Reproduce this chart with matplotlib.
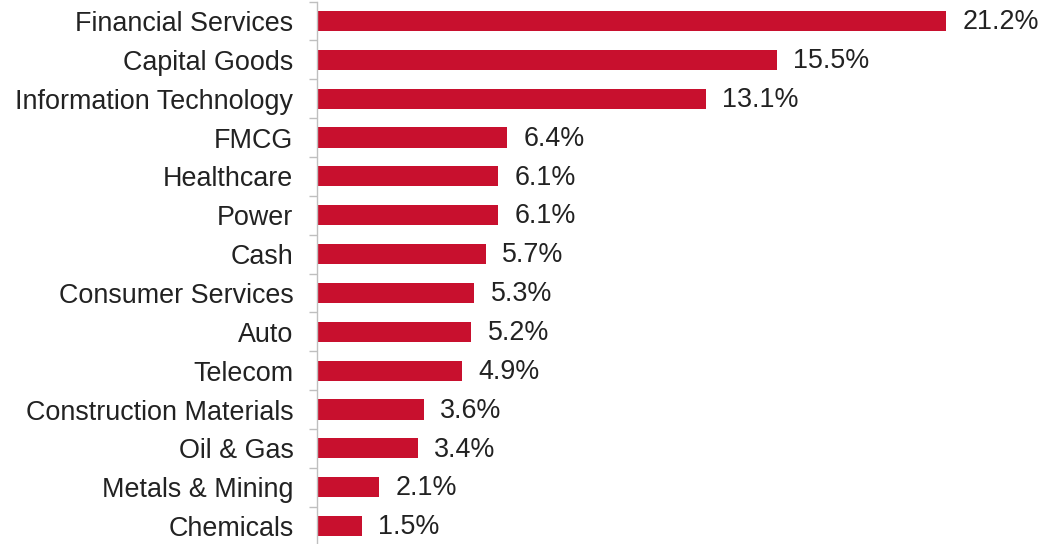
import numpy as np
import matplotlib.pyplot as plt

sectors = ["Financial Services", "Capital Goods", "Information Technology", "FMCG",
           "Healthcare", "Power", "Cash", "Consumer Services", "Auto", "Telecom",
           "Construction Materials", "Oil & Gas", "Metals & Mining", "Chemicals"]
weights = [21.2, 15.5, 13.1, 6.4, 6.1, 6.1, 5.7, 5.3, 5.2, 4.9, 3.6, 3.4, 2.1, 1.5]

plt.rcParams['font.family'] = ['Liberation Sans', 'DejaVu Sans']

fig = plt.figure(figsize=(10.38, 5.44), dpi=100)
ax = fig.add_axes([317 / 1038, -0.0028, 1 - 317 / 1038, 1.0])

y = np.arange(len(sectors))
ax.barh(y, weights, height=0.52, color='#C8102E')
for yi, w in zip(y, weights):
    ax.text(w + 0.55, yi + 0.03, f"{w:.1f}%", va='center', ha='left', fontsize=19.4, color='#222222')

ax.set_ylim(len(sectors) - 0.5, -0.5)
ax.set_xlim(0, 24.3)
ax.set_yticks(y)
ax.set_yticklabels(sectors, fontsize=19.4, color='#222222')
ax.set_yticks(np.arange(len(sectors) + 1) - 0.5, minor=True)
ax.tick_params(axis='y', which='major', length=0, pad=17)
ax.tick_params(axis='y', which='minor', length=6, color='#BFBFBF', width=1)
ax.set_xticks([])
for side in ['top', 'right', 'bottom']:
    ax.spines[side].set_visible(False)
ax.spines['left'].set_color('#BFBFBF')
ax.spines['left'].set_linewidth(1)

fig.savefig('out.png', dpi=100)
